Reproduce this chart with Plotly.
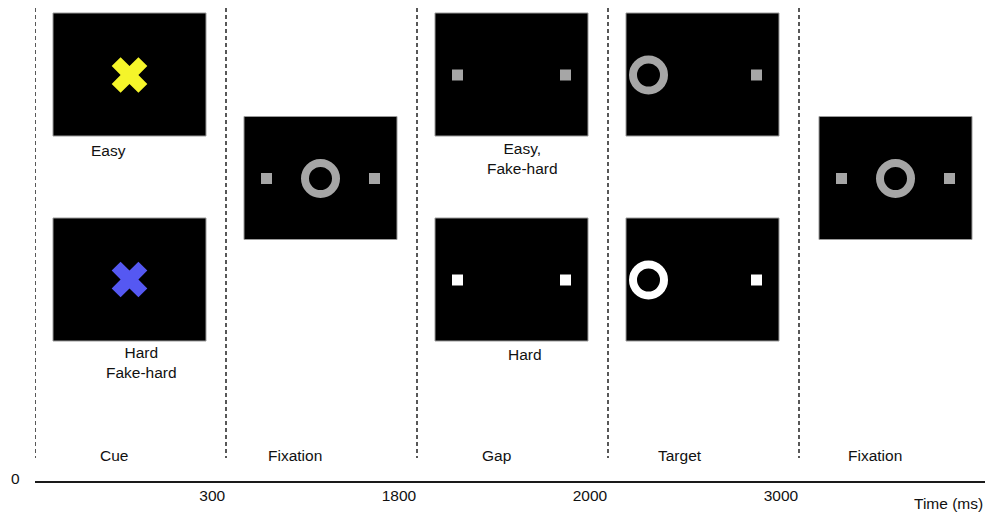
import plotly.graph_objects as go

# ---------------- data ----------------
phases = ["Cue", "Fixation", "Gap", "Target", "Fixation"]
boundary_ms = ["0", "300", "1800", "2000", "3000"]
axis_title = "Time (ms)"
cue_conditions = ["Easy", "Hard<br>Fake-hard"]
gap_conditions = ["Easy,<br>Fake-hard", "Hard"]
cue_colors = ["#f5f52a", "#5558f2"]          # easy cue, hard cue
stim_gray = "#a6a6a6"
stim_white = "#ffffff"

# ---------------- geometry helpers ----------------
W, H = 987, 513
ML, MR, MT, MB = 35, 2, 0, 32
PX = 191.0                                   # pixels per phase unit
PLOT_H = H - MT - MB


def u(px):
    return px / PX


ROW_Y = {"top": 74.5, "mid": 178.0, "bot": 279.5}
HALF_W = u(76.5)
HALF_H = 61.5
OFF = u(54)
PANEL_SHIFT = [-1, -1, -1, -1, 1]            # small per-phase pixel nudges
FONT = "Liberation Sans, Arial, Helvetica, sans-serif"


def pc(p):
    """panel centre (x units) for phase p"""
    return p + 0.5 + u(PANEL_SHIFT[p])


fig = go.Figure()

# dashed phase boundaries
xs, ys = [], []
for i in range(len(phases)):
    xs += [i, i, None]
    ys += [8, 458, None]
fig.add_trace(go.Scatter(x=xs, y=ys, mode="lines",
                         line=dict(color="#222222", width=1.5, dash="4px,3px"),
                         hoverinfo="skip", showlegend=False))

# black screens
panels = [(0, "top"), (0, "bot"), (1, "mid"), (2, "top"), (2, "bot"),
          (3, "top"), (3, "bot"), (4, "mid")]
for p, r in panels:
    cx = pc(p)
    cy = ROW_Y[r]
    fig.add_shape(type="rect", x0=cx - HALF_W, x1=cx + HALF_W,
                  y0=cy - HALF_H, y1=cy + HALF_H,
                  fillcolor="black", line=dict(color="#9a9a9a", width=1),
                  layer="below")

# cue crosses
fig.add_trace(go.Scatter(
    x=[pc(0), pc(0)], y=[ROW_Y["top"] + 0.5, ROW_Y["bot"]],
    mode="markers",
    marker=dict(symbol="x", size=31.5, color=cue_colors, line=dict(width=0)),
    hoverinfo="skip", showlegend=False))

# placeholder squares
sq_x, sq_y, sq_c = [], [], []
for p, r, c in [(1, "mid", stim_gray), (2, "top", stim_gray), (2, "bot", stim_white),
                (4, "mid", stim_gray)]:
    cx = pc(p)
    sq_x += [cx - OFF, cx + OFF]
    sq_y += [ROW_Y[r] + 0.5, ROW_Y[r] + 0.5]
    sq_c += [c, c]
for r, c in [("top", stim_gray), ("bot", stim_white)]:
    sq_x.append(pc(3) + OFF)
    sq_y.append(ROW_Y[r] + 0.5)
    sq_c.append(c)
fig.add_trace(go.Scatter(x=sq_x, y=sq_y, mode="markers",
                         marker=dict(symbol="square", size=11, color=sq_c,
                                     line=dict(width=0)),
                         hoverinfo="skip", showlegend=False))

# rings (fixation / target)
rg_x, rg_y, rg_c = [], [], []
for p, r, c, dx in [(1, "mid", stim_gray, 0), (4, "mid", stim_gray, 0),
                    (3, "top", stim_gray, -OFF), (3, "bot", stim_white, -OFF)]:
    rg_x.append(pc(p) + dx)
    rg_y.append(ROW_Y[r] + 0.5)
    rg_c.append(c)
fig.add_trace(go.Scatter(x=rg_x, y=rg_y, mode="markers",
                         marker=dict(symbol="circle-open", size=31, color=rg_c,
                                     line=dict(width=8, color=rg_c)),
                         hoverinfo="skip", showlegend=False))

# condition labels
txt = dict(family=FONT, size=15.5, color="#111")
cond = [
    (0, cue_conditions[0], -22, 150),
    (0, cue_conditions[1], 11, 362),
    (2, gap_conditions[0], 10, 158),
    (2, gap_conditions[1], 12, 354),
]
for p, t, dx, py in cond:
    fig.add_annotation(x=p + 0.5 + u(dx), y=py, xref="x", yref="y", text=t,
                       showarrow=False, font=txt, xanchor="center", yanchor="middle")

# phase labels
shifts = [-1, 2, 0, 0, 9]
for i, name in enumerate(phases):
    fig.add_annotation(x=i + 0.5, y=455, xref="x", yref="y", text=name,
                       showarrow=False, font=txt, xanchor="right",
                       yanchor="middle", xshift=shifts[i])

# zero label and axis title
fig.add_annotation(x=0, y=(PLOT_H - 478.5) / PLOT_H, xref="x", yref="paper",
                   text=boundary_ms[0], showarrow=False, font=txt,
                   xanchor="right", yanchor="middle", xshift=-13)
fig.add_annotation(x=1, y=(PLOT_H - 503) / PLOT_H, xref="paper", yref="paper",
                   text=axis_title, showarrow=False, font=txt,
                   xanchor="right", yanchor="middle")

fig.update_layout(
    width=W, height=H,
    margin=dict(l=ML, r=MR, t=MT, b=MB),
    plot_bgcolor="white", paper_bgcolor="white",
    showlegend=False,
    xaxis=dict(range=[0, (W - ML - MR) / PX], showgrid=False, zeroline=False,
               showline=True, linecolor="#1a1a1a", linewidth=1.6,
               tickvals=list(range(1, len(boundary_ms))),
               ticktext=boundary_ms[1:], ticks="",
               ticklabelposition="outside left",
               ticklabelstandoff=0,
               tickfont=dict(family=FONT, size=15.5, color="#111"),
               fixedrange=True),
    yaxis=dict(range=[PLOT_H, 0], visible=False, showgrid=False,
               zeroline=False, fixedrange=True),
)

fig.write_html("out.html", config={"displayModeBar": False},
               post_script="document.body.style.margin='0';document.body.style.overflow='hidden';")
